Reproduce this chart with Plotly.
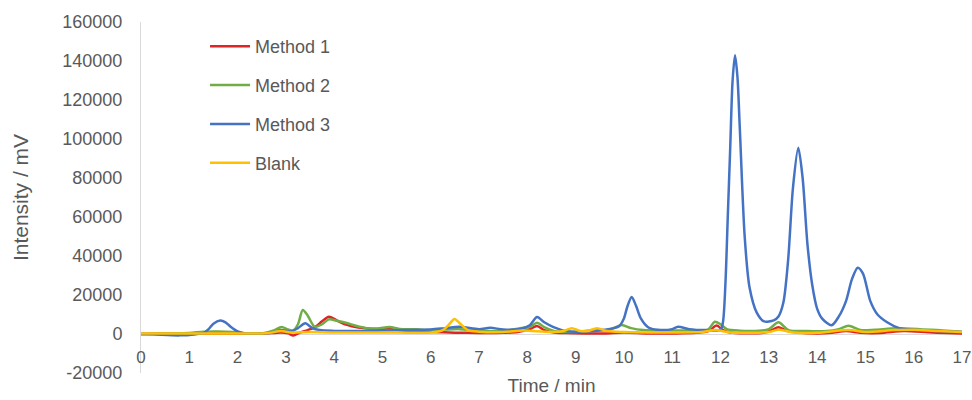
import plotly.graph_objects as go

# ---- data ----
t_m1 = [0, 0.5, 1.0, 1.5, 2.0, 2.5, 2.9, 3.05, 3.15, 3.3, 3.45, 3.6, 3.75, 3.89, 4.05, 4.25, 4.5, 4.8, 5.0, 5.15, 5.35, 5.7, 6.0, 6.5, 7.0, 7.5, 7.8, 8.05, 8.2, 8.35, 8.55, 8.8, 9.2, 9.6, 10.0, 10.5, 11.0, 11.5, 11.75, 11.92, 12.05, 12.2, 12.5, 12.9, 13.05, 13.2, 13.35, 13.6, 14.0, 14.3, 14.6, 14.9, 15.3, 15.8, 16.3, 16.7, 17.0]
v_m1 = [0, 200, 200, 300, 200, 100, 800, 300, -800, 800, 2000, 3500, 6500, 8900, 7000, 4800, 3300, 2600, 2600, 3000, 1900, 1200, 1000, 700, 500, 600, 1000, 2500, 4100, 2000, 800, 500, 300, 300, 800, 300, 300, 600, 1500, 4300, 2000, 800, 400, 700, 1800, 3500, 1800, 800, 300, 600, 1500, 600, 500, 1500, 900, 500, 300]

t_m2 = [0, 0.5, 1.0, 1.3, 1.6, 1.9, 2.2, 2.5, 2.75, 2.91, 3.05, 3.15, 3.25, 3.35, 3.45, 3.6, 3.75, 3.89, 4.05, 4.26, 4.45, 4.67, 4.9, 5.15, 5.35, 5.7, 6.0, 6.3, 6.6, 7.0, 7.5, 7.85, 8.05, 8.2, 8.35, 8.55, 8.9, 9.3, 9.7, 9.95, 10.15, 10.4, 10.8, 11.3, 11.74, 11.88, 12.0, 12.13, 12.4, 12.8, 13.0, 13.2, 13.41, 13.8, 14.2, 14.45, 14.65, 14.9, 15.2, 15.64, 16.13, 16.6, 17.0]
v_m2 = [0, 200, 500, 1200, 1300, 1000, 300, 200, 1800, 3600, 2300, 1800, 5000, 12300, 9500, 3600, 5000, 7500, 6800, 5600, 4200, 3000, 2800, 3600, 2600, 2400, 2000, 2300, 2500, 1800, 1500, 3000, 3500, 5800, 3500, 1500, 1000, 1800, 2200, 4600, 3000, 2000, 1800, 1800, 2200, 6300, 5000, 2500, 1700, 1700, 2500, 6000, 2000, 1500, 1500, 2500, 4200, 2000, 2200, 2900, 2500, 1800, 1200]

t_m3 = [0, 0.3, 0.8, 1.1, 1.3, 1.4, 1.5, 1.64, 1.75, 1.85, 2.0, 2.15, 2.4, 2.7, 2.9, 3.1, 3.25, 3.4, 3.55, 3.7, 4.0, 4.5, 5.0, 5.5, 6.0, 6.3, 6.6, 7.0, 7.23, 7.5, 7.85, 8.05, 8.2, 8.35, 8.53, 8.8, 9.2, 9.6, 9.9, 10.0, 10.07, 10.16, 10.25, 10.35, 10.5, 10.7, 11.0, 11.12, 11.35, 11.7, 12.0, 12.05, 12.1, 12.15, 12.2, 12.25, 12.3, 12.35, 12.4, 12.5, 12.6, 12.75, 12.9, 13.1, 13.2, 13.3, 13.4, 13.5, 13.61, 13.7, 13.8, 13.9, 14.0, 14.1, 14.3, 14.45, 14.6, 14.72, 14.84, 14.95, 15.1, 15.25, 15.45, 15.7, 16.0, 16.5, 17.0]
v_m3 = [0, -300, -700, -200, 600, 2500, 5300, 6900, 6000, 3800, 1300, 300, 100, 600, 2000, 1300, 3000, 5500, 3000, 2000, 1600, 1500, 1800, 2000, 2300, 3000, 3700, 2500, 3200, 2300, 2600, 4500, 8700, 6000, 3700, 1500, 1300, 2200, 4000, 8000, 14000, 19000, 14500, 8000, 3500, 2200, 2500, 3700, 2500, 2000, 2200, 6000, 25000, 60000, 95000, 130000, 143000, 132000, 105000, 50000, 24000, 11000, 6500, 7000, 9000, 16000, 38000, 75000, 95500, 80000, 46000, 25000, 13000, 8000, 4500, 9000, 17000, 28000, 34000, 31000, 17000, 10000, 6000, 3000, 2200, 1500, 1000]

t_bl = [0, 1.0, 2.0, 2.6, 2.9, 3.1, 3.5, 4.0, 5.0, 6.0, 6.25, 6.4, 6.49, 6.6, 6.77, 7.0, 7.5, 7.9, 8.1, 8.5, 8.75, 8.92, 9.1, 9.25, 9.44, 9.65, 10.0, 11.0, 11.6, 11.9, 12.2, 13.0, 13.2, 13.5, 14.0, 14.65, 15.0, 15.6, 16.0, 16.5, 17.0]
v_bl = [300, 300, 300, 400, 1500, 800, 1000, 800, 800, 800, 2000, 5500, 7700, 5500, 2000, 1200, 1000, 1800, 1500, 1000, 1500, 3000, 1500, 1500, 3000, 1500, 1000, 800, 1000, 2000, 800, 1000, 2200, 800, 600, 2000, 1000, 2000, 2200, 1500, 1000]

series = [
    ("Method 1", t_m1, v_m1, "#E02424"),
    ("Method 2", t_m2, v_m2, "#70AD47"),
    ("Method 3", t_m3, v_m3, "#4472C4"),
    ("Blank", t_bl, v_bl, "#FFC000"),
]

x_ticks = list(range(0, 18))
y_ticks = list(range(-20000, 160001, 20000))
y_labels = [str(v) for v in y_ticks]

fig = go.Figure()
for i, (name, t, v, c) in enumerate(series):
    fig.add_trace(go.Scatter(
        x=t, y=v, name=name, mode="lines",
        line=dict(color=c, width=2.5, shape="spline", smoothing=0.8),
        legendgroup=f"g{i}",
    ))

grey = "#595959"
fig.update_layout(
    width=972, height=400,
    margin=dict(l=141, r=10, t=22, b=27),
    paper_bgcolor="white", plot_bgcolor="white",
    font=dict(family="Liberation Sans, Arial, sans-serif", color=grey),
    showlegend=True,
    legend=dict(
        x=0.078, y=0.983, xanchor="left", yanchor="top",
        font=dict(size=18, color=grey),
        itemwidth=40, tracegroupgap=12.5,
        bgcolor="rgba(0,0,0,0)",
    ),
    xaxis=dict(
        range=[0, 17], tickvals=x_ticks,
        anchor="free", position=1/9.0, automargin=False,
        showline=True, linecolor="#D9D9D9", linewidth=1,
        showgrid=False, zeroline=False,
        ticks="outside", ticklen=8, tickcolor="rgba(0,0,0,0)",
        tickfont=dict(size=17, color=grey),
        title=dict(text="Time / min", standoff=12,
                   font=dict(size=19, color=grey)),
        layer="below traces",
    ),
    yaxis=dict(
        range=[-20000, 160000], tickvals=y_ticks, ticktext=y_labels,
        automargin=False,
        showline=True, linecolor="#D9D9D9", linewidth=1,
        showgrid=False, zeroline=False,
        ticks="", ticklabelstandoff=14,
        tickfont=dict(size=18, color=grey),
        title=dict(text="Intensity / mV", standoff=27, font=dict(size=21, color=grey)),
        layer="below traces",
    ),
)

fig.write_html("out.html", config={"displayModeBar": False},
               post_script="document.body.style.margin='0';document.body.style.padding='0';")
